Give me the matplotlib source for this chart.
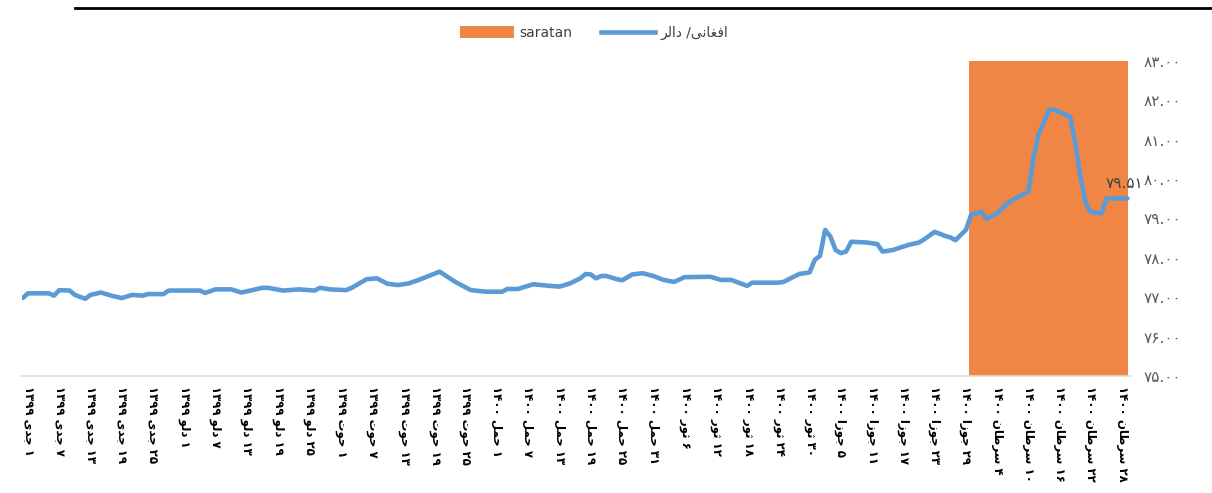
import matplotlib
matplotlib.use("Agg")
import matplotlib.pyplot as plt
from matplotlib.patches import Patch
from matplotlib.lines import Line2D

# daily afghani / dollar rate (day 0 = 1 jadi 1399)
days = [-1, 0, 4, 5, 6, 8, 9, 11, 12, 14, 16, 18, 20, 22, 23, 26, 27, 33, 34, 36,
        39, 41, 45, 46, 49, 52, 55, 56, 58, 61, 62, 65, 67, 69, 71, 73, 75, 79, 82, 85,
        88, 91, 92, 94, 97, 100, 102, 104, 106, 107, 108, 109, 110, 111, 113, 114, 116, 118, 120, 122,
        124, 126, 131, 133, 135, 138, 139, 144, 145, 148, 150, 151, 152, 153, 154, 155, 156, 157, 158, 161,
        163, 164, 166, 169, 171, 172, 174, 176, 177, 178, 180, 181, 183, 184, 186, 188, 190, 192, 193, 194,
        196, 197, 200, 201, 202, 203, 204, 206, 207, 208, 211]
rates = [76.98, 77.10, 77.10, 77.04, 77.18, 77.17, 77.06, 76.96, 77.06, 77.12, 77.04, 76.98, 77.06, 77.04, 77.08, 77.08, 77.17, 77.17, 77.11, 77.20,
         77.20, 77.12, 77.24, 77.24, 77.17, 77.20, 77.17, 77.24, 77.20, 77.18, 77.23, 77.46, 77.48, 77.34, 77.31, 77.35, 77.44, 77.65, 77.39, 77.18,
         77.14, 77.14, 77.21, 77.21, 77.33, 77.29, 77.27, 77.35, 77.48, 77.59, 77.58, 77.48, 77.54, 77.54, 77.46, 77.43, 77.58, 77.61, 77.54, 77.44,
         77.39, 77.51, 77.52, 77.44, 77.44, 77.29, 77.37, 77.37, 77.39, 77.59, 77.63, 77.95, 78.05, 78.71, 78.54, 78.20, 78.12, 78.16, 78.41, 78.39,
         78.35, 78.16, 78.20, 78.33, 78.39, 78.47, 78.66, 78.56, 78.52, 78.45, 78.71, 79.09, 79.17, 78.99, 79.13, 79.39, 79.55, 79.68, 80.57, 81.16,
         81.76, 81.76, 81.59, 80.91, 80.06, 79.39, 79.17, 79.13, 79.51, 79.51, 79.51]

# saratan month shaded
saratan_start = 180.6
saratan_end = 211.1

tick_days = list(range(0, 211, 6))
tick_labels = [
    "۱ جدی ۱۳۹۹", "۷ جدی ۱۳۹۹", "۱۳ جدی ۱۳۹۹", "۱۹ جدی ۱۳۹۹", "۲۵ جدی ۱۳۹۹",
    "۱ دلو ۱۳۹۹", "۷ دلو ۱۳۹۹", "۱۳ دلو ۱۳۹۹", "۱۹ دلو ۱۳۹۹", "۲۵ دلو ۱۳۹۹",
    "۱ حوت ۱۳۹۹", "۷ حوت ۱۳۹۹", "۱۳ حوت ۱۳۹۹", "۱۹ حوت ۱۳۹۹", "۲۵ حوت ۱۳۹۹",
    "۱ حمل ۱۴۰۰", "۷ حمل ۱۴۰۰", "۱۳ حمل ۱۴۰۰", "۱۹ حمل ۱۴۰۰", "۲۵ حمل ۱۴۰۰", "۳۱ حمل ۱۴۰۰",
    "۶ ثور ۱۴۰۰", "۱۲ ثور ۱۴۰۰", "۱۸ ثور ۱۴۰۰", "۲۴ ثور ۱۴۰۰", "۳۰ ثور ۱۴۰۰",
    "۵ جوزا ۱۴۰۰", "۱۱ جوزا ۱۴۰۰", "۱۷ جوزا ۱۴۰۰", "۲۳ جوزا ۱۴۰۰", "۲۹ جوزا ۱۴۰۰",
    "۴ سرطان ۱۴۰۰", "۱۰ سرطان ۱۴۰۰", "۱۶ سرطان ۱۴۰۰", "۲۲ سرطان ۱۴۰۰", "۲۸ سرطان ۱۴۰۰",
]
y_ticks = [75, 76, 77, 78, 79, 80, 81, 82, 83]
series_label = "افغانی/ دالر"
span_label = "saratan"

BLUE = "#5B9BD5"
ORANGE = "#EF8646"

# matplotlib has no arabic shaping, so pick presentation forms by hand
FORMS = {
    "ا": ("\uFE8D", "\uFE8E"), "د": ("\uFEA9", "\uFEAA"), "ر": ("\uFEAD", "\uFEAE"),
    "ز": ("\uFEAF", "\uFEB0"), "و": ("\uFEED", "\uFEEE"),
    "ج": ("\uFE9D", "\uFE9E", "\uFE9F", "\uFEA0"), "ح": ("\uFEA1", "\uFEA2", "\uFEA3", "\uFEA4"),
    "ت": ("\uFE95", "\uFE96", "\uFE97", "\uFE98"), "ث": ("\uFE99", "\uFE9A", "\uFE9B", "\uFE9C"),
    "س": ("\uFEB1", "\uFEB2", "\uFEB3", "\uFEB4"), "ط": ("\uFEC1", "\uFEC2", "\uFEC3", "\uFEC4"),
    "غ": ("\uFECD", "\uFECE", "\uFECF", "\uFED0"), "ف": ("\uFED1", "\uFED2", "\uFED3", "\uFED4"),
    "ل": ("\uFEDD", "\uFEDE", "\uFEDF", "\uFEE0"), "م": ("\uFEE1", "\uFEE2", "\uFEE3", "\uFEE4"),
    "ن": ("\uFEE5", "\uFEE6", "\uFEE7", "\uFEE8"), "ی": ("\uFBFC", "\uFBFD", "\uFBFE", "\uFBFF"),
}


def shape_word(w):
    out = []
    for i, c in enumerate(w):
        if c not in FORMS:
            out.append(c)
            continue
        prev = w[i - 1] if i > 0 else ""
        nxt = w[i + 1] if i + 1 < len(w) else ""
        jp = prev in FORMS and len(FORMS[prev]) == 4
        jn = len(FORMS[c]) == 4 and nxt in FORMS
        f = FORMS[c]
        if jp and jn:
            out.append(f[3])
        elif jp:
            out.append(f[1])
        elif jn:
            out.append(f[2])
        else:
            out.append(f[0])
    if any(c in FORMS for c in w):
        return "".join(reversed(out))
    return "".join(out)


def rtl(text):
    return " ".join(shape_word(t) for t in reversed(text.split(" ")))


def fa_num(s):
    return s.translate(str.maketrans("0123456789", "۰۱۲۳۴۵۶۷۸۹"))


W, H = 1212, 493
fig = plt.figure(figsize=(W / 100, H / 100), dpi=100)
ax = fig.add_axes([22 / W, 1 - 376 / H, (1130 - 22) / W, (376 - 61) / H])

ax.axvspan(saratan_start, saratan_end, color=ORANGE, lw=0, zorder=1)
ax.plot(days, rates, color=BLUE, lw=3.3, solid_joinstyle="round", solid_capstyle="round", zorder=3)

ax.annotate(fa_num(f"{rates[-1]:.2f}"), (days[-1], rates[-1]), xytext=(-2, 5),
            textcoords="offset points", ha="center", va="bottom", fontsize=11,
            color="#404040", zorder=4)

ax.set_xlim(-1.15, 211.5)
ax.set_ylim(75, 83)

ax.set_xticks(tick_days)
ax.set_xticklabels([rtl(t) for t in tick_labels], rotation=-90, fontsize=8.5,
                   fontweight="bold", color="black", ha="center", va="top")
ax.tick_params(axis="x", length=0, pad=7)

ax.yaxis.tick_right()
ax.set_yticks(y_ticks)
ax.set_yticklabels([fa_num(f"{v:.2f}") for v in y_ticks])
ax.tick_params(axis="y", length=0, pad=10, labelsize=11, labelcolor="#595959")

for s in ["top", "left", "right"]:
    ax.spines[s].set_visible(False)
ax.spines["bottom"].set_color("#D9D9D9")
ax.spines["bottom"].set_linewidth(1.2)

handles = [Patch(facecolor=ORANGE, edgecolor="none"),
           Line2D([], [], color=BLUE, lw=3.3)]
fig.legend(handles, [span_label, rtl(series_label)], loc="center",
           bbox_to_anchor=(594 / W, 1 - 33 / H), ncol=2, frameon=False,
           fontsize=10, handlelength=3.9, handleheight=0.9, handletextpad=0.4,
           columnspacing=2.0, labelcolor="#404040")

# rule under the (cut off) title
fig.add_artist(Line2D([75 / W, 1], [1 - 8 / H, 1 - 8 / H], color="black", lw=2,
                      transform=fig.transFigure))

fig.savefig("out.png", dpi=100)
